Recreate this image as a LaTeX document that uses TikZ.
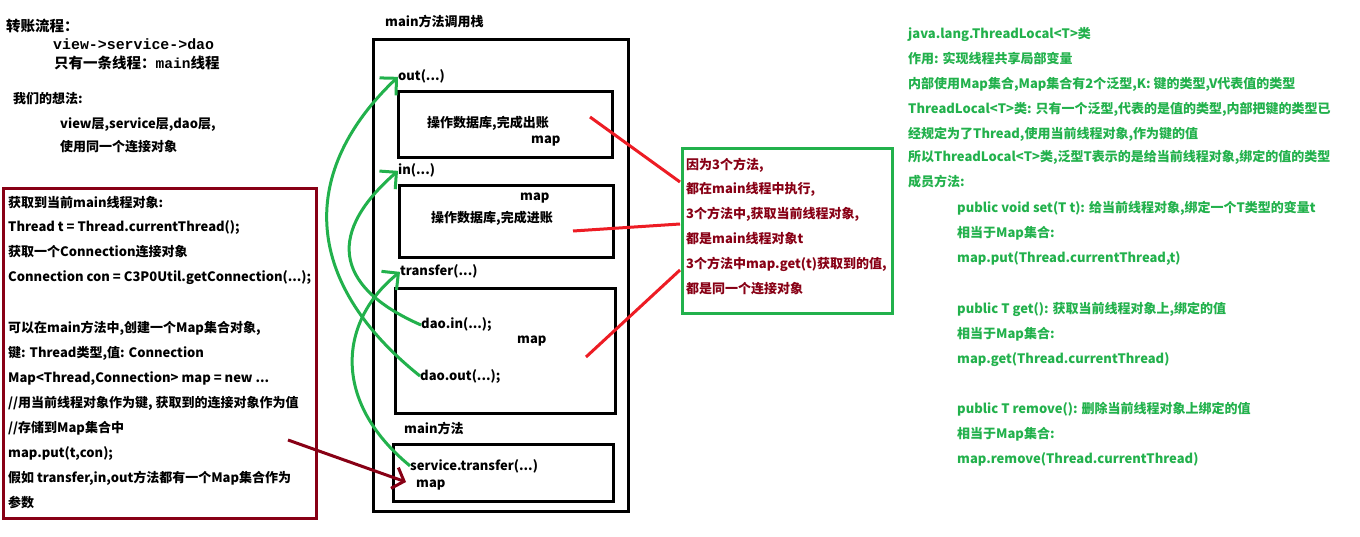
\documentclass[tikz,border=0pt]{standalone}
\usepackage{fontspec}
\setmainfont{Noto Sans CJK SC}
\newfontfamily\monoft{Liberation Mono}
\usetikzlibrary{arrows.meta}
\definecolor{pgreen}{HTML}{22B14C}
\definecolor{pred}{HTML}{ED1C24}
\definecolor{pdred}{HTML}{880015}
\begin{document}
\begin{tikzpicture}[x=1pt,y=-1pt,
  tx/.style={anchor=base west, inner sep=0pt, font=\fontsize{13}{15}\selectfont\bfseries},
  big/.style={anchor=base west, inner sep=0pt, font=\fontsize{14.5}{16}\selectfont\bfseries},
  gtx/.style={tx, text=pgreen},
  rtx/.style={tx, text=pdred},
  box/.style={draw, line width=3.2pt, anchor=north west, inner sep=0pt},
  garrow/.style={draw=pgreen, line width=3pt, -{Straight Barb[length=12pt,width=24pt]}},
  darrow/.style={draw=pdred, line width=3pt, -{Straight Barb[length=10pt,width=22pt]}},
  rline/.style={draw=pred, line width=3pt}]
\useasboundingbox[fill=white] (0,0) rectangle (1360,537);

% top-left notes
\node[big] (t1) at (6,32) {转账流程：};
\node[big, font=\fontsize{14.9}{16}\selectfont\bfseries\monoft] (t2) at (53,50) {view->service->dao};
\node[big] (t3) at (54,69) {只有一条线程：{\monoft main}线程};
\node[tx] (t4) at (13,104) {我们的想法:};
\node[tx] (t5) at (60,129) {view层,service层,dao层,};
\node[tx] (t6) at (60,152) {使用同一个连接对象};

% red box
\node[box, draw=pdred, minimum width=313pt, minimum height=330pt] (redbox) at (2,187) {};
\node[tx] (r1) at (8,208) {获取到当前main线程对象:};
\node[tx] (r2) at (8,232) {Thread t = Thread.currentThread();};
\node[tx] (r3) at (8,257) {获取一个Connection连接对象};
\node[tx] (r4) at (8,282) {Connection con = C3P0Util.getConnection(...);};
\node[tx] (r5) at (8,332) {可以在main方法中,创建一个Map集合对象,};
\node[tx] (r6) at (8,357) {键: Thread类型,值: Connection};
\node[tx] (r7) at (8,382) {Map<Thread,Connection> map = new ...};
\node[tx] (r8) at (8,407) {//用当前线程对象作为键, 获取到的连接对象作为值};
\node[tx] (r9) at (8,432) {//存储到Map集合中};
\node[tx] (r10) at (8,457) {map.put(t,con);};
\node[tx] (r11) at (8,482) {假如 transfer,in,out方法都有一个Map集合作为};
\node[tx] (r12) at (8,507) {参数};

% stack
\node[tx] (stitle) at (385,27) {main方法调用栈};
\node[box, minimum width=255pt, minimum height=472pt] (stack) at (372,38) {};
\node[tx] (outl) at (398,81) {out(...)};
\node[box, minimum width=214pt, minimum height=66pt] (outbox) at (397,90) {};
\node[tx] (outa) at (427,128) {操作数据库,完成出账};
\node[tx] (outm) at (531,144) {map};
\node[tx] (inl) at (398,175) {in(...)};
\node[box, minimum width=214pt, minimum height=72pt] (inbox) at (398,184) {};
\node[tx] (inm) at (520,201) {map};
\node[tx] (ina) at (431,223) {操作数据库,完成进账};
\node[tx] (trl) at (400,276) {transfer(...)};
\node[box, minimum width=220pt, minimum height=125pt] (trbox) at (394,287) {};
\node[tx] (daoin) at (421,329) {dao.in(...);};
\node[tx] (trm) at (517,343) {map};
\node[tx] (daoout) at (420,380) {dao.out(...);};
\node[tx] (mainl) at (404,433) {main方法};
\node[box, minimum width=220pt, minimum height=57pt] (mainbox) at (392,443) {};
\node[tx] (svc) at (410,470) {service.transfer(...)};
\node[tx] (mainm) at (416,487) {map};

% green box
\node[box, draw=pgreen, minimum width=210pt, minimum height=165pt] (gbox) at (681,147) {};
\node[rtx] (g1) at (686,170) {因为3个方法,};
\node[rtx] (g2) at (686,194) {都在main线程中执行,};
\node[rtx] (g3) at (686,219) {3个方法中,获取当前线程对象,};
\node[rtx] (g4) at (686,244) {都是main线程对象t};
\node[rtx] (g5) at (686,269) {3个方法中map.get(t)获取到的值,};
\node[rtx] (g6) at (686,294) {都是同一个连接对象};

% right notes
\node[gtx] (n1) at (908,39) {java.lang.ThreadLocal<T>类};
\node[gtx] (n2) at (908,64) {作用: 实现线程共享局部变量};
\node[gtx] (n3) at (908,89) {内部使用Map集合,Map集合有2个泛型,K: 键的类型,V代表值的类型};
\node[gtx] (n4) at (908,114) {ThreadLocal<T>类: 只有一个泛型,代表的是值的类型,内部把键的类型已};
\node[gtx] (n5) at (908,139) {经规定为了Thread,使用当前线程对象,作为键的值};
\node[gtx] (n6) at (908,162) {所以ThreadLocal<T>类,泛型T表示的是给当前线程对象,绑定的值的类型};
\node[gtx] (n7) at (908,187) {成员方法:};
\node[gtx] (m1) at (957,213) {public void set(T t): 给当前线程对象,绑定一个T类型的变量t};
\node[gtx] (m2) at (957,238) {相当于Map集合:};
\node[gtx] (m3) at (957,263) {map.put(Thread.currentThread,t)};
\node[gtx] (m4) at (957,313) {public T get(): 获取当前线程对象上,绑定的值};
\node[gtx] (m5) at (957,338) {相当于Map集合:};
\node[gtx] (m6) at (957,363) {map.get(Thread.currentThread)};
\node[gtx] (m7) at (957,413) {public T remove(): 删除当前线程对象上绑定的值};
\node[gtx] (m8) at (957,438) {相当于Map集合:};
\node[gtx] (m9) at (957,463) {map.remove(Thread.currentThread)};

% green curved arrows
\draw[garrow] (daoout.west) .. controls (300,280) and (300,170) .. (outl.west);
\draw[garrow] (daoin.west) .. controls (330,285) and (330,230) .. (inl.west);
\draw[garrow] (svc.west) .. controls (330,400) and (340,320) .. (trl.west);

% dark red arrow
\coordinate (ds) at (288,440);
\coordinate (de) at (406,482);
\draw[darrow] (ds) -- (de);

% red lines
\coordinate (a1) at (590,117);
\coordinate (b1) at (680,182);
\coordinate (a2) at (573,231);
\coordinate (b2) at (680,224);
\coordinate (a3) at (586,357);
\coordinate (b3) at (680,270);
\draw[rline] (a1) -- (b1);
\draw[rline] (a2) -- (b2);
\draw[rline] (a3) -- (b3);
\end{tikzpicture}
\end{document}
